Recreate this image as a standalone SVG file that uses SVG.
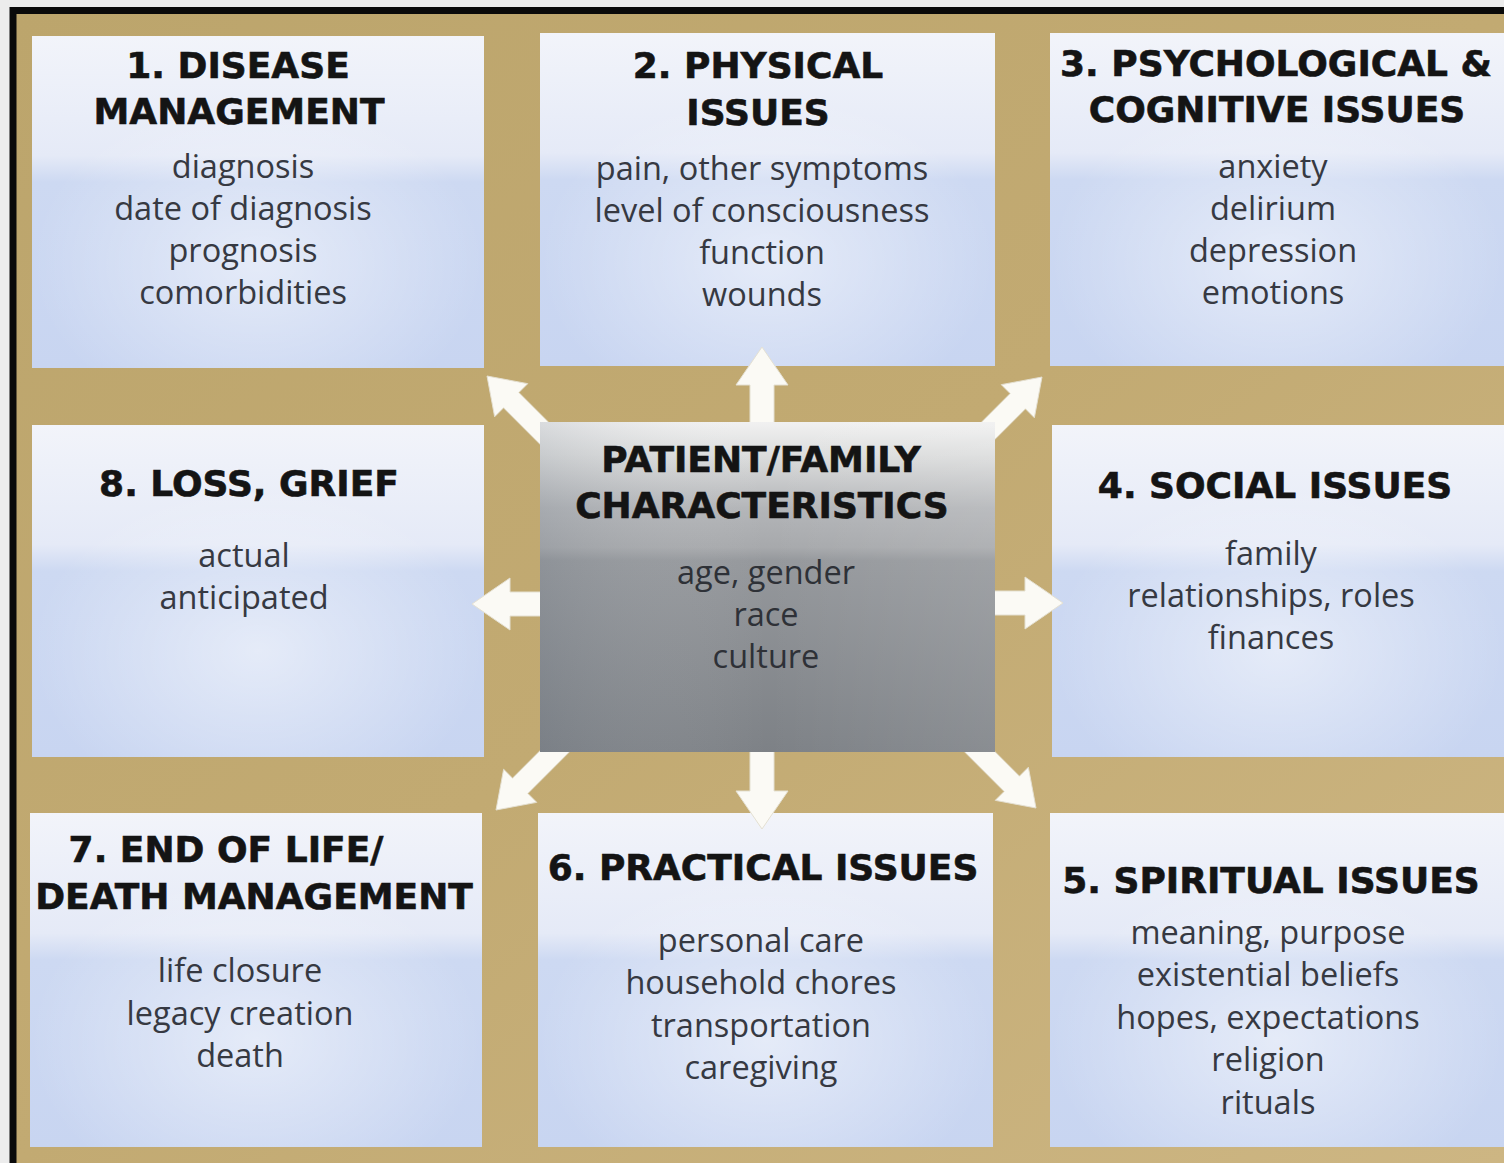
<svg xmlns="http://www.w3.org/2000/svg" xmlns:xlink="http://www.w3.org/1999/xlink" width="1504" height="1163" viewBox="0 0 1504 1163">
  <defs>
    <linearGradient id="tan" x1="0" y1="0" x2="1" y2="1">
      <stop offset="0" stop-color="#bca56c"/>
      <stop offset="0.5" stop-color="#c2aa72"/>
      <stop offset="1" stop-color="#cdb683"/>
    </linearGradient>
    <linearGradient id="panel" x1="0" y1="0" x2="0" y2="1">
      <stop offset="0" stop-color="#f2f4fa"/>
      <stop offset="0.36" stop-color="#e5eaf7"/>
      <stop offset="0.44" stop-color="#cdd9f2"/>
      <stop offset="1" stop-color="#c8d5f1"/>
    </linearGradient>
    <radialGradient id="glow" cx="0.5" cy="0.68" r="0.5">
      <stop offset="0" stop-color="#ffffff" stop-opacity="0.5"/>
      <stop offset="1" stop-color="#ffffff" stop-opacity="0"/>
    </radialGradient>
    <linearGradient id="hub" x1="0" y1="0" x2="0" y2="1">
      <stop offset="0" stop-color="#f1f1f1"/>
      <stop offset="0.1" stop-color="#dcdddd"/>
      <stop offset="0.26" stop-color="#b3b5b8"/>
      <stop offset="0.38" stop-color="#a7a9ac"/>
      <stop offset="0.42" stop-color="#95989c"/>
      <stop offset="1" stop-color="#7d8186"/>
    </linearGradient>
    <linearGradient id="hubSide" x1="0" y1="0" x2="1" y2="0">
      <stop offset="0" stop-color="#6f7a88" stop-opacity="0.18"/>
      <stop offset="0.5" stop-color="#ffffff" stop-opacity="0"/>
      <stop offset="1" stop-color="#ffffff" stop-opacity="0.1"/>
    </linearGradient>
    <!-- block arrow pointing up, tip at the origin -->
    <path id="arrow" d="M0,0 L26,38 L12,38 L12,115 L-12,115 L-12,38 L-26,38 Z"/>
  </defs>
  <style>
    .panel { fill: url(#panel); }
    .glow { fill: url(#glow); }
    .hd { font-family: "DejaVu Sans", Verdana, sans-serif; font-weight: bold; font-size: 36px; fill: #141414; stroke: #141414; stroke-width: 0.6px; text-anchor: middle; }
    .bd { font-family: "Open Sans", "Liberation Sans", sans-serif; font-size: 32.5px; fill: #363942; text-anchor: middle; }
    .hub-bd { fill: #2e3137; }
    .arrow { fill: #fbfaf5; stroke: #e4e0d2; stroke-width: 1; }
  </style>

  <!-- page and frame -->
  <rect x="0" y="0" width="1504" height="1163" fill="#ececec"/>
  <rect x="16" y="14" width="1488" height="1149" fill="url(#tan)"/>
  <path d="M10,10.5 H1504 M13,7 V1163" fill="none" stroke="#0a0a0a" stroke-width="7"/>

  <g id="node-1">
    <rect class="panel" x="32" y="36" width="452" height="332"/>
    <rect class="glow" x="32" y="36" width="452" height="332"/>
    <text class="hd" x="238" y="78">1. DISEASE</text>
    <text class="hd" x="239" y="124">MANAGEMENT</text>
    <text class="bd" x="243" y="178">diagnosis</text>
    <text class="bd" x="243" y="220">date of diagnosis</text>
    <text class="bd" x="243" y="262">prognosis</text>
    <text class="bd" x="243" y="304">comorbidities</text>
  </g>

  <g id="node-2">
    <rect class="panel" x="540" y="33" width="455" height="333"/>
    <rect class="glow" x="540" y="33" width="455" height="333"/>
    <text class="hd" x="758" y="78">2. PHYSICAL</text>
    <text class="hd" x="758" y="125">ISSUES</text>
    <text class="bd" x="762" y="180">pain, other symptoms</text>
    <text class="bd" x="762" y="222">level of consciousness</text>
    <text class="bd" x="762" y="264">function</text>
    <text class="bd" x="762" y="306">wounds</text>
  </g>

  <g id="node-3">
    <rect class="panel" x="1050" y="33" width="454" height="333"/>
    <rect class="glow" x="1050" y="33" width="454" height="333"/>
    <text class="hd" x="1276" y="76">3. PSYCHOLOGICAL &amp;</text>
    <text class="hd" x="1277" y="122">COGNITIVE ISSUES</text>
    <text class="bd" x="1273" y="178">anxiety</text>
    <text class="bd" x="1273" y="220">delirium</text>
    <text class="bd" x="1273" y="262">depression</text>
    <text class="bd" x="1273" y="304">emotions</text>
  </g>

  <g id="node-8">
    <rect class="panel" x="32" y="425" width="452" height="332"/>
    <rect class="glow" x="32" y="425" width="452" height="332"/>
    <text class="hd" x="249" y="496">8. LOSS, GRIEF</text>
    <text class="bd" x="244" y="567">actual</text>
    <text class="bd" x="244" y="609">anticipated</text>
  </g>

  <g id="node-4">
    <rect class="panel" x="1052" y="425" width="452" height="332"/>
    <rect class="glow" x="1052" y="425" width="452" height="332"/>
    <text class="hd" x="1275" y="498">4. SOCIAL ISSUES</text>
    <text class="bd" x="1271" y="565">family</text>
    <text class="bd" x="1271" y="607">relationships, roles</text>
    <text class="bd" x="1271" y="649">finances</text>
  </g>

  <g id="node-7">
    <rect class="panel" x="30" y="813" width="452" height="334"/>
    <rect class="glow" x="30" y="813" width="452" height="334"/>
    <text class="hd" x="226" y="862">7. END OF LIFE/</text>
    <text class="hd" x="254" y="909">DEATH MANAGEMENT</text>
    <text class="bd" x="240" y="982">life closure</text>
    <text class="bd" x="240" y="1025">legacy creation</text>
    <text class="bd" x="240" y="1067">death</text>
  </g>

  <g id="node-6">
    <rect class="panel" x="538" y="813" width="455" height="334"/>
    <rect class="glow" x="538" y="813" width="455" height="334"/>
    <text class="hd" x="763" y="880">6. PRACTICAL ISSUES</text>
    <text class="bd" x="761" y="952">personal care</text>
    <text class="bd" x="761" y="994">household chores</text>
    <text class="bd" x="761" y="1037">transportation</text>
    <text class="bd" x="761" y="1079">caregiving</text>
  </g>

  <g id="node-5">
    <rect class="panel" x="1050" y="813" width="454" height="334"/>
    <rect class="glow" x="1050" y="813" width="454" height="334"/>
    <text class="hd" x="1271" y="893">5. SPIRITUAL ISSUES</text>
    <text class="bd" x="1268" y="944">meaning, purpose</text>
    <text class="bd" x="1268" y="986">existential beliefs</text>
    <text class="bd" x="1268" y="1029">hopes, expectations</text>
    <text class="bd" x="1268" y="1071">religion</text>
    <text class="bd" x="1268" y="1114">rituals</text>
  </g>

  <!-- arrows radiating from the hub; tails run under it -->
  <g id="connectors">
    <use xlink:href="#arrow" class="arrow" transform="translate(762,347)"/>
    <use xlink:href="#arrow" class="arrow" transform="translate(762,829) rotate(180)"/>
    <use xlink:href="#arrow" class="arrow" transform="translate(472,604) rotate(-90)"/>
    <use xlink:href="#arrow" class="arrow" transform="translate(1063,603) rotate(90)"/>
    <use xlink:href="#arrow" class="arrow" transform="translate(487,376) rotate(-45) scale(0.9)"/>
    <use xlink:href="#arrow" class="arrow" transform="translate(1042,377) rotate(45) scale(0.9)"/>
    <use xlink:href="#arrow" class="arrow" transform="translate(496,810) rotate(-135) scale(0.9)"/>
    <use xlink:href="#arrow" class="arrow" transform="translate(1036,808) rotate(135) scale(0.9)"/>
  </g>

  <g id="hub">
    <rect x="540" y="422" width="455" height="330" fill="url(#hub)"/>
    <rect x="540" y="422" width="455" height="330" fill="url(#hubSide)"/>
    <text class="hd" x="761" y="472">PATIENT/FAMILY</text>
    <text class="hd" x="762" y="518">CHARACTERISTICS</text>
    <text class="bd hub-bd" x="766" y="584">age, gender</text>
    <text class="bd hub-bd" x="766" y="626">race</text>
    <text class="bd hub-bd" x="766" y="668">culture</text>
  </g>
</svg>
